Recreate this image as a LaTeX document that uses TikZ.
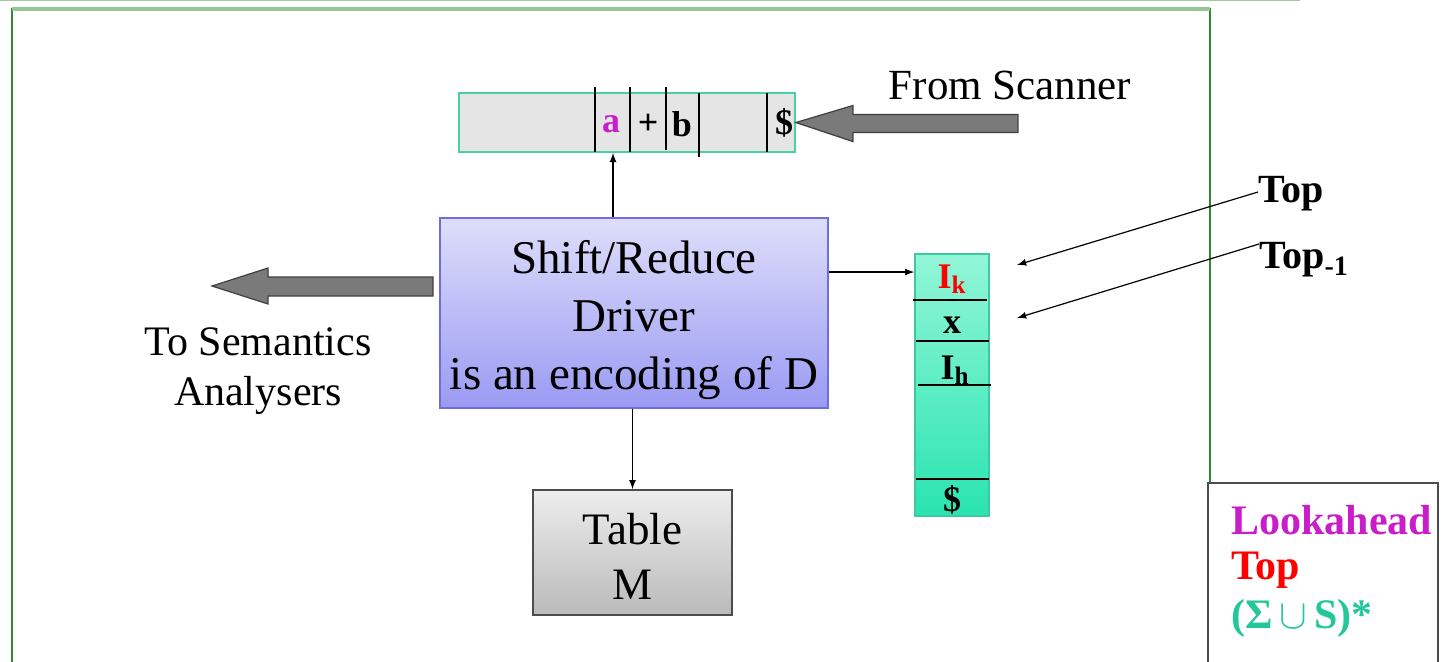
\documentclass[tikz,border=0pt]{standalone}
\usepackage{fontspec}
\setmainfont{Liberation Serif}
\usetikzlibrary{calc}
\definecolor{framegreen}{HTML}{2F8A2F}
\definecolor{tapeedge}{HTML}{45D3A5}
\definecolor{stackedge}{HTML}{3BC9A0}
\definecolor{stacktop}{HTML}{92F6D8}
\definecolor{stackbot}{HTML}{2AE4B0}
\definecolor{drivtop}{HTML}{DEDEFB}
\definecolor{drivbot}{HTML}{9A9AF3}
\definecolor{drivedge}{HTML}{6E6EDC}
\definecolor{lookmag}{HTML}{C81DC8}
\definecolor{sigteal}{HTML}{22C79A}
\begin{document}
\begin{tikzpicture}[x=0.5pt, y=-0.5pt,
    ptr/.style={-latex, line width=0.6pt},
    fatarrow/.style={draw=black!75, fill=black!52, line width=0.6pt, line join=miter},
    cell/.style={font=\fontsize{18}{20}\selectfont\bfseries, inner sep=0pt},
    every node/.style={align=center}]
    \useasboundingbox (0,0) rectangle (1445,661);
    % frame of the slide
    \draw[framegreen!45, line width=1.2pt] (0,0) -- (1300,0);
    \draw[framegreen, line width=0.7pt] (12,680) -- (12,9) -- (1210,9) -- (1210,483);
    \draw[framegreen!50, line width=2.2pt] (12,9) -- (1210,9);
    % input tape
    \node[draw=tapeedge, fill=black!10, line width=0.9pt, minimum width=168pt,
        minimum height=29.5pt, inner sep=0pt](tape) at (627,122.5){};
    \foreach \xx/\ya/\yb in {595/87/152, 630/87/152, 666/87/150, 699/93/157, 767/93/152}
        \draw[line width=0.6pt] (\xx,\ya) -- (\xx,\yb);
    \node[cell, text=lookmag](la) at (611,124){a};
    \node[cell](plus) at (648,124){+};
    \node[cell](bb) at (682,124){b};
    \node[cell](dol) at (784,123){\$};
    \draw[fatarrow] (tape.east) -- ++(57,-17) -- ++(0,9) -- ++(165,0) -- ++(0,18)
        -- ++(-165,0) -- ++(0,9) -- cycle;
    \node[font=\fontsize{21.5}{26}\selectfont](scanner) at (1010,85){From Scanner};
    % driver
    \node[draw=drivedge, line width=0.7pt, top color=drivtop, bottom color=drivbot,
        minimum width=194pt, minimum height=95pt, inner sep=0pt,
        font=\fontsize{23.5}{29}\selectfont](driver) at (634,313)
        {\rule{0pt}{24pt}Shift/Reduce\\Driver\\is an encoding of D};
    \draw[ptr] (driver.north -| 613,0) -- (tape.south -| 613,0);
    % table
    \node[draw=black!70, line width=0.8pt, top color=black!7, bottom color=black!27,
        minimum width=99.5pt, minimum height=62.5pt, inner sep=0pt,
        font=\fontsize{22.5}{27.5}\selectfont](table) at (632.5,552.5){\rule{0pt}{19pt}Table\\M};
    \draw[ptr] (driver.south -| table.north) -- (table.north);
    % to semantics
    \coordinate (semtip) at (212,286);
    \draw[fatarrow] (semtip) -- ++(56,-18) -- ++(0,9) -- ++(165,0) -- ++(0,19)
        -- ++(-165,0) -- ++(0,8) -- cycle;
    \node[font=\fontsize{21}{25}\selectfont](sem) at (258,371){To Semantics\\Analysers};
    % stack
    \node[draw=stackedge, line width=0.7pt, top color=stacktop, bottom color=stackbot,
        minimum width=37pt, minimum height=131pt, inner sep=0pt](stack) at (952,385){};
    \draw[ptr] (driver.east |- 0,272) -- (stack.west |- 0,272);
    \draw[line width=0.7pt] (913,300) -- (987,300);
    \draw[line width=0.7pt] (916,341) -- (989,341);
    \draw[line width=0.7pt] (918,385) -- (991,385);
    \draw[line width=0.7pt] (916,479) -- (989,479);
    \node[cell, text=red](ik) at (952,279){I\textsubscript{k}};
    \node[cell](xx) at (952,325){x};
    \node[cell](ih) at (955,370){I\textsubscript{h}};
    \node[cell](sbot) at (952,500){\$};
    % top pointers
    \coordinate (ikptr) at (1017,265);
    \coordinate (xptr) at (1017,318);
    \node[anchor=west, font=\fontsize{20}{23}\selectfont\bfseries, inner sep=0pt](toplbl) at (1258,194){Top};
    \node[anchor=west, font=\fontsize{20}{23}\selectfont\bfseries, inner sep=0pt](topm) at (1259,260){Top\textsubscript{-1}};
    \draw[ptr] ([yshift=1pt]toplbl.west) -- (ikptr);
    \draw[ptr] ([yshift=8pt]topm.west) -- (xptr);
    % legend
    \draw[black!70, line width=0.8pt, fill=white] (1208,700) -- (1208,483) -- (1438,483) -- (1438,700);
    \node[anchor=west, text=lookmag, font=\fontsize{21}{24}\selectfont\bfseries, inner sep=0pt](lk) at (1231,520){Lookahead};
    \node[anchor=west, text=red, font=\fontsize{21}{24}\selectfont\bfseries, inner sep=0pt](tp) at (1231,570){Top};
    \node[anchor=west, text=sigteal, font=\fontsize{21}{24}\selectfont\bfseries, inner sep=0pt](sg) at (1231,618){(Σ\,$\cup$\,S)*};
\end{tikzpicture}
\end{document}
